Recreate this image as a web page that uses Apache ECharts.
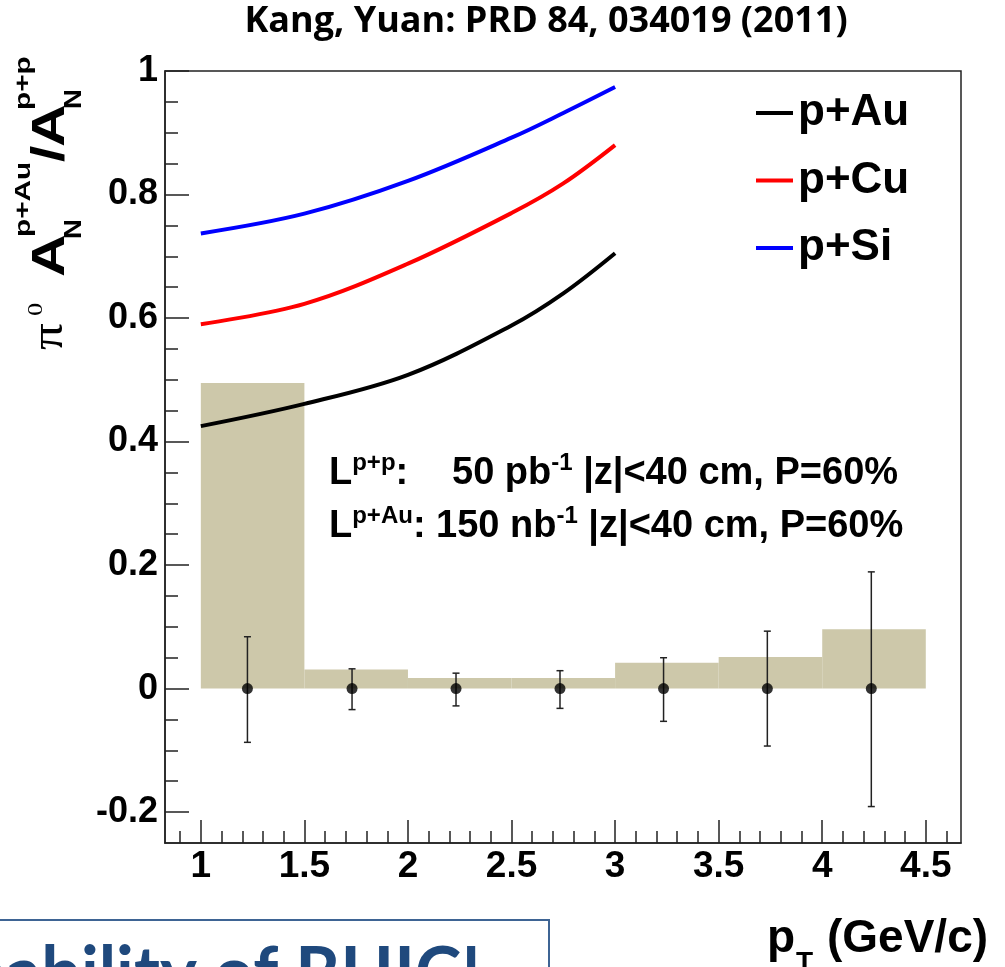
<!DOCTYPE html>
<html>
<head>
<meta charset="utf-8">
<script src="https://cdn.jsdelivr.net/npm/echarts@6/dist/echarts.min.js"></script>
<style>
  html, body { margin: 0; padding: 0; background: #ffffff; }
  #chart { width: 1005px; height: 967px; }
</style>
</head>
<body>
<div id="chart"></div>
<script>
// Systematic-uncertainty band per pT bin
const binLow    = [1.0, 1.5, 2.0, 2.5, 3.0, 3.5, 4.0];
const binHigh   = [1.5, 2.0, 2.5, 3.0, 3.5, 4.0, 4.5];
const sysHeight = [0.495, 0.031, 0.017, 0.017, 0.042, 0.051, 0.096];

// Projected measurement points with statistical errors
const pointPt  = [1.225, 1.73, 2.232, 2.734, 3.234, 3.735, 4.237];
const pointVal = [0, 0, 0, 0, 0, 0, 0];
const errUp    = [0.084, 0.032, 0.025, 0.029, 0.050, 0.093, 0.189];
const errDown  = [0.087, 0.034, 0.028, 0.032, 0.053, 0.093, 0.191];

// Theory curves (Kang, Yuan)
const curvePt = [1.0, 1.5, 2.0, 2.5, 2.75, 3.0];
const pAu = [0.425, 0.461, 0.508, 0.588, 0.640, 0.705];
const pCu = [0.590, 0.623, 0.688, 0.770, 0.818, 0.880];
const pSi = [0.737, 0.769, 0.822, 0.892, 0.932, 0.974];
const curveNames = ['p+Au', 'p+Cu', 'p+Si'];

// Axis ticks
const xMajor = [1, 1.5, 2, 2.5, 3, 3.5, 4, 4.5];
const xMinor = [0.9, 1.1, 1.2, 1.3, 1.4, 1.6, 1.7, 1.8, 1.9, 2.1, 2.2, 2.3, 2.4,
                2.6, 2.7, 2.8, 2.9, 3.1, 3.2, 3.3, 3.4, 3.6, 3.7, 3.8, 3.9,
                4.1, 4.2, 4.3, 4.4, 4.6];
const yMajor = [-0.2, 0, 0.2, 0.4, 0.6, 0.8, 1];
const yMinor = [-0.15, -0.1, -0.05, 0.05, 0.1, 0.15, 0.25, 0.3, 0.35, 0.45, 0.5,
                0.55, 0.65, 0.7, 0.75, 0.85, 0.9, 0.95];

const X_MIN = 0.827, X_MAX = 4.67, Y_MIN = -0.25, Y_MAX = 1;
const INK = '#222222';
const SANS = 'Liberation Sans, Arial, Helvetica, sans-serif';
const SERIF = 'Liberation Serif, Times New Roman, serif';

const chart = echarts.init(document.getElementById('chart'), null, { renderer: 'canvas' });

function xAxisDef(ticks, len, withLabels) {
  return {
    type: 'value', min: X_MIN, max: X_MAX, position: 'bottom',
    axisLine: { show: withLabels, onZero: false, lineStyle: { color: INK, width: 1.5 } },
    axisTick: { show: true, inside: true, length: len, customValues: ticks,
                lineStyle: { color: INK, width: 1.5 } },
    axisLabel: withLabels ? {
      customValues: ticks, fontFamily: SANS, fontWeight: 'bold', fontSize: 37,
      color: '#000', margin: 5
    } : { show: false },
    splitLine: { show: false }
  };
}
function yAxisDef(ticks, len, withLabels) {
  return {
    type: 'value', min: Y_MIN, max: Y_MAX, position: 'left',
    axisLine: { show: withLabels, onZero: false, lineStyle: { color: INK, width: 1.5 } },
    axisTick: { show: true, inside: true, length: len, customValues: ticks,
                lineStyle: { color: INK, width: 1.5 } },
    axisLabel: withLabels ? {
      customValues: ticks, fontFamily: SANS, fontWeight: 'bold', fontSize: 36,
      color: '#000', margin: 7
    } : { show: false },
    splitLine: { show: false }
  };
}

// Helper: vertical centre for a text whose baseline should sit at `base`
const mid = (base, size, k) => base - (k || 0.3465) * size;

const yTitleParts = [
  { t: '\u03c0', x: 0,   base: -2,  size: 46, fam: SERIF, w: 'normal', sx: 1.15, k: 0.3375 },
  { t: '0',      x: 34,  base: -23, size: 22, fam: SERIF, w: 'normal', sx: 1.2,  k: 0.3375 },
  { t: 'A',      x: 73,  base: 0,   size: 47, fam: SANS,  w: 'bold',   sx: 1.25 },
  { t: 'N',      x: 111, base: 16,  size: 23, fam: SANS,  w: 'bold',   sx: 1.2 },
  { t: 'p+Au',   x: 113, base: -35, size: 22, fam: SANS,  w: 'bold',   sx: 1.35 },
  { t: '/',      x: 188, base: 0,   size: 47, fam: SANS,  w: 'bold',   sx: 1.25 },
  { t: 'A',      x: 203, base: 0,   size: 47, fam: SANS,  w: 'bold',   sx: 1.25 },
  { t: 'N',      x: 241, base: 16,  size: 23, fam: SANS,  w: 'bold',   sx: 1.2 },
  { t: 'p+p',    x: 240, base: -35, size: 22, fam: SANS,  w: 'bold',   sx: 1.35 }
];

const richMain = {
  m: { fontFamily: SANS, fontWeight: 'bold', fontSize: 38, lineHeight: 46, fill: '#000' },
  s: { fontFamily: SANS, fontWeight: 'bold', fontSize: 24, lineHeight: 18, fill: '#000', verticalAlign: 'top' }
};

const option = {
  backgroundColor: '#ffffff',
  animation: false,
  grid: { left: 165, right: 44, top: 71, bottom: 124, show: true,
          borderColor: INK, borderWidth: 1.5, backgroundColor: 'transparent' },
  xAxis: [ xAxisDef(xMajor, 23, true), xAxisDef(xMinor, 12, false) ],
  yAxis: [ yAxisDef(yMajor, 24, true), yAxisDef(yMinor, 13, false) ],
  legend: {
    data: curveNames, orient: 'vertical', left: 756, top: 91, padding: 0,
    itemWidth: 37, itemHeight: 4, itemGap: 23.5, icon: 'rect',
    selectedMode: false,
    textStyle: { fontFamily: SANS, fontWeight: 'bold', fontSize: 44, lineHeight: 42, color: '#000' }
  },
  series: [
    {
      type: 'custom', name: 'sys', z: 1, silent: true,
      data: binLow.map((lo, i) => [lo, binHigh[i], sysHeight[i]]),
      encode: { x: [0, 1], y: 2 },
      renderItem: (params, api) => {
        const a = api.coord([api.value(0), api.value(2)]);
        const b = api.coord([api.value(1), 0]);
        return { type: 'rect', shape: { x: a[0], y: a[1], width: b[0] - a[0], height: b[1] - a[1] },
                 style: { fill: '#cdc8aa' } };
      }
    },
    ...[pAu, pCu, pSi].map((vals, k) => ({
      type: 'line', name: curveNames[k], z: 3, smooth: 0.35, showSymbol: false, silent: true,
      data: curvePt.map((x, i) => [x, vals[i]]),
      lineStyle: { width: 4, color: ['#000000', '#ff0000', '#0000ff'][k] },
      itemStyle: { color: ['#000000', '#ff0000', '#0000ff'][k] }
    })),
    {
      type: 'custom', name: 'stat', z: 4, silent: true,
      data: pointPt.map((x, i) => [x, pointVal[i], errUp[i], errDown[i]]),
      encode: { x: 0, y: [1, 2, 3] },
      renderItem: (params, api) => {
        const x = api.value(0), y = api.value(1);
        const top = api.coord([x, y + api.value(2)]);
        const bot = api.coord([x, y - api.value(3)]);
        const cap = 3.5;
        const st = { stroke: INK, lineWidth: 1.5 };
        return { type: 'group', children: [
          { type: 'line', shape: { x1: top[0], y1: top[1], x2: bot[0], y2: bot[1] }, style: st },
          { type: 'line', shape: { x1: top[0] - cap, y1: top[1], x2: top[0] + cap, y2: top[1] }, style: st },
          { type: 'line', shape: { x1: bot[0] - cap, y1: bot[1], x2: bot[0] + cap, y2: bot[1] }, style: st }
        ]};
      }
    },
    {
      type: 'scatter', name: 'points', z: 5, silent: true, symbol: 'circle', symbolSize: 11,
      data: pointPt.map((x, i) => [x, pointVal[i]]),
      itemStyle: { color: '#000' }
    }
  ],
  graphic: [
    { type: 'text', x: 546, y: 22, z: 10,
      style: { text: 'Kang, Yuan: PRD 84, 034019 (2011)', fontFamily: 'Open Sans, sans-serif',
               fontWeight: 'bold', fontSize: 36, fill: '#000', align: 'center', verticalAlign: 'middle' } },
    { type: 'text', x: 329, y: 451, z: 10,
      style: { text: '{m|L}{s|p+p}{m|:}', rich: richMain, verticalAlign: 'top', align: 'left' } },
    { type: 'text', x: 452, y: 451, z: 10,
      style: { text: '{m|50 pb}{s|-1}{m| |z|<40 cm, P=60%}', rich: richMain, verticalAlign: 'top', align: 'left' } },
    { type: 'text', x: 329, y: 504, z: 10,
      style: { text: '{m|L}{s|p+Au}{m|: 150 nb}{s|-1}{m| |z|<40 cm, P=60%}', rich: richMain, verticalAlign: 'top', align: 'left' } },
    { type: 'group', x: 67, y: 350, rotation: Math.PI / 2, z: 10,
      children: yTitleParts.map(p => ({
        type: 'text', x: p.x, y: mid(p.base, p.size, p.k), scaleX: p.sx,
        style: { text: p.t, fontFamily: p.fam, fontWeight: p.w, fontSize: p.size,
                 fill: '#000', align: 'left', verticalAlign: 'middle' }
      })) },
    { type: 'text', x: 767, y: mid(955, 46), z: 10,
      style: { text: 'p', fontFamily: SANS, fontWeight: 'bold', fontSize: 46, fill: '#000',
               align: 'left', verticalAlign: 'middle' } },
    { type: 'text', x: 796, y: mid(973, 28), z: 10,
      style: { text: 'T', fontFamily: SANS, fontWeight: 'bold', fontSize: 28, fill: '#000',
               align: 'left', verticalAlign: 'middle' } },
    { type: 'text', x: 827, y: mid(955, 46), z: 10,
      style: { text: '(GeV/c)', fontFamily: SANS, fontWeight: 'bold', fontSize: 46, fill: '#000',
               align: 'left', verticalAlign: 'middle' } },
    { type: 'rect', x: 0, y: 0, z: 9,
      shape: { x: -10, y: 920, width: 559, height: 80 },
      style: { fill: '#ffffff', stroke: '#3e6494', lineWidth: 2 } },
    { type: 'text', x: 481, y: 974, z: 10,
      style: { text: 'Capability of RHIC!', fontFamily: 'Lato, sans-serif', fontWeight: 'bold',
               fontSize: 70, fill: '#1f497d', align: 'right', verticalAlign: 'middle' } }
  ]
};

chart.setOption(option);
</script>
</body>
</html>
